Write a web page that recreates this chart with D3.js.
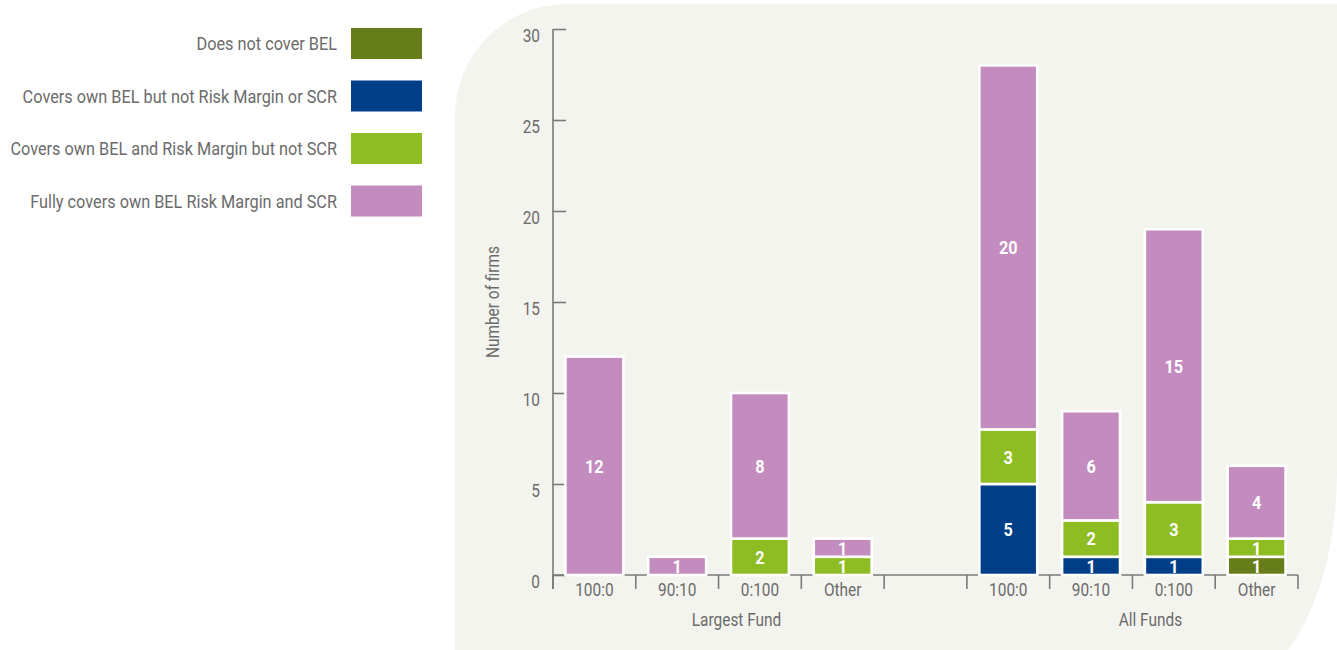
<!DOCTYPE html>
<html>
<head>
<meta charset="utf-8">
<script src="https://cdn.jsdelivr.net/npm/d3@7"></script>
<style>
  html, body { margin: 0; padding: 0; background: #ffffff; }
  svg { display: block; }
  text { font-family: "Roboto", sans-serif; }
</style>
</head>
<body>
<svg id="chart" width="1337" height="650"></svg>
<script>
// ---- Data ----
const groups = ["Largest Fund", "All Funds"];
const categories = ["100:0", "90:10", "0:100", "Other"];
const seriesNames = [
  "Does not cover BEL",
  "Covers own BEL but not Risk Margin or SCR",
  "Covers own BEL and Risk Margin but not SCR",
  "Fully covers own BEL Risk Margin and SCR"
];
const seriesColors = ["#667d1a", "#003f87", "#8dbd22", "#c48bbf"];
// values per category, in series order (bottom to top)
const largestFund = [
  [0, 0, 0, 12],
  [0, 0, 0, 1],
  [0, 0, 2, 8],
  [0, 0, 1, 1]
];
const allFunds = [
  [0, 5, 3, 20],
  [0, 1, 2, 6],
  [0, 1, 3, 15],
  [1, 0, 1, 4]
];
const yTicks = [0, 5, 10, 15, 20, 25, 30];
const yTitle = "Number of firms";

// ---- Build rows ----
const rows = [];
groups.forEach((g, gi) => {
  const vals = gi === 0 ? largestFund : allFunds;
  categories.forEach((c, ci) => {
    rows.push({ key: g + "|" + c, group: g, cat: c, values: vals[ci] });
  });
  if (gi === 0) rows.push({ key: "gap", group: null, cat: "", values: null });
});

const svg = d3.select("#chart");
const textColor = "#6b6b6b";
const axisColor = "#7a7a7a";

// condensed-text factor: the reference uses a condensed face; squeeze Roboto to match
const probe = svg.append("text").style("font-size", "19px").text(seriesNames[3]);
const K = 307 / probe.node().getComputedTextLength();
probe.remove();
function condense(sel) {
  sel.each(function () {
    const t = d3.select(this);
    const xa = +(t.attr("x") || 0);
    const prev = t.attr("transform") || "";
    t.attr("transform", `${prev} translate(${xa},0) scale(${K},1) translate(${-xa},0)`);
  });
}

// ---- Background panel ----
svg.append("path")
  .attr("d", "M455,650 L455,116 A112,112 0 0 1 567,4 L1337,4 L1337,470 C1337,545 1318,610 1288,650 Z")
  .attr("fill", "#f4f4ef");

// ---- Scales ----
const x = d3.scaleBand()
  .domain(rows.map(r => r.key))
  .range([553, 1298])
  .paddingInner(0.3)
  .paddingOuter(0.15);
const y = d3.scaleLinear().domain([0, 30]).range([575, 29]);

// ---- Y axis ----
const yAxis = d3.axisLeft(y).tickValues(yTicks).tickSize(-13).tickSizeOuter(0).tickPadding(13);
const gy = svg.append("g").attr("transform", "translate(553,0)").call(yAxis);
gy.select(".domain").attr("stroke", axisColor).attr("stroke-width", 1.6).attr("d", `M0,${y(30)}V${y(0) + 14}`);
gy.selectAll(".tick line").attr("stroke", axisColor).attr("stroke-width", 1.6);
gy.selectAll(".tick text").attr("fill", textColor).attr("dy", "0.68em").attr("y", 0)
  .style("font-size", "18px").style("font-family", '"Roboto", sans-serif');
condense(gy.selectAll(".tick text"));

const yt = svg.append("text")
  .attr("transform", `translate(499,${(y(0) + y(30)) / 2}) rotate(-90)`)
  .attr("text-anchor", "middle")
  .attr("fill", textColor)
  .style("font-size", "18px")
  .text(yTitle);
condense(yt);

// ---- X axis ----
const step = x.step();
const xAxis = d3.axisBottom(x).tickSize(0).tickPadding(8)
  .tickFormat(k => { const r = rows.find(d => d.key === k); return r ? r.cat : ""; });
const gx = svg.append("g").attr("transform", `translate(0,${y(0)})`).call(xAxis);
gx.select(".domain").attr("stroke", axisColor).attr("stroke-width", 1.6).attr("d", `M553,0H1298`);
gx.selectAll(".tick text").attr("fill", textColor)
  .style("font-size", "18px").style("font-family", '"Roboto", sans-serif');
condense(gx.selectAll(".tick text"));

// boundary ticks
const boundaries = rows.map(r => x(r.key) - step * 0.15).concat([x(rows[rows.length - 1].key) + x.bandwidth() + step * 0.15]);
svg.append("g").selectAll("line").data(boundaries).join("line")
  .attr("x1", d => d).attr("x2", d => d)
  .attr("y1", y(0)).attr("y2", y(0) + 14)
  .attr("stroke", axisColor).attr("stroke-width", 1.6);

// group labels
groups.forEach(g => {
  const ks = rows.filter(r => r.group === g);
  const x0 = x(ks[0].key) - step * 0.15;
  const x1 = x(ks[ks.length - 1].key) + x.bandwidth() + step * 0.15;
  const gt = svg.append("text")
    .attr("x", (x0 + x1) / 2 + 18)
    .attr("y", 626)
    .attr("text-anchor", "middle")
    .attr("fill", textColor)
    .style("font-size", "18px")
    .text(g);
  condense(gt);
});

// ---- Bars ----
const segs = [];
rows.filter(r => r.values).forEach(r => {
  let acc = 0;
  r.values.forEach((v, si) => {
    if (v > 0) segs.push({ key: r.key, si, v, y0: acc, y1: acc + v });
    acc += v;
  });
});

const barG = svg.append("g");
barG.selectAll("rect").data(segs).join("rect")
  .attr("x", d => x(d.key))
  .attr("width", x.bandwidth())
  .attr("y", d => y(d.y1))
  .attr("height", d => y(d.y0) - y(d.y1))
  .attr("fill", d => seriesColors[d.si])
  .attr("stroke", "#ffffff")
  .attr("stroke-width", 2.6);

const vl = barG.selectAll("text").data(segs).join("text")
  .attr("x", d => x(d.key) + x.bandwidth() / 2)
  .attr("y", d => (y(d.y0) + y(d.y1)) / 2)
  .attr("dy", "0.36em")
  .attr("text-anchor", "middle")
  .attr("fill", "#ffffff")
  .style("font-size", "19px")
  .style("font-weight", "bold")
  .text(d => d.v);
condense(vl);

// ---- Legend ----
const legend = svg.append("g");
seriesNames.forEach((name, i) => {
  const cy = 43.5 + i * 52.5;
  legend.append("rect")
    .attr("x", 351).attr("y", cy - 15.5)
    .attr("width", 71).attr("height", 31)
    .attr("fill", seriesColors[i]);
  const lt = legend.append("text")
    .attr("x", 337).attr("y", cy)
    .attr("dy", "0.35em")
    .attr("text-anchor", "end")
    .attr("fill", textColor)
    .style("font-size", "19px")
    .text(name);
  condense(lt);
});
</script>
</body>
</html>
